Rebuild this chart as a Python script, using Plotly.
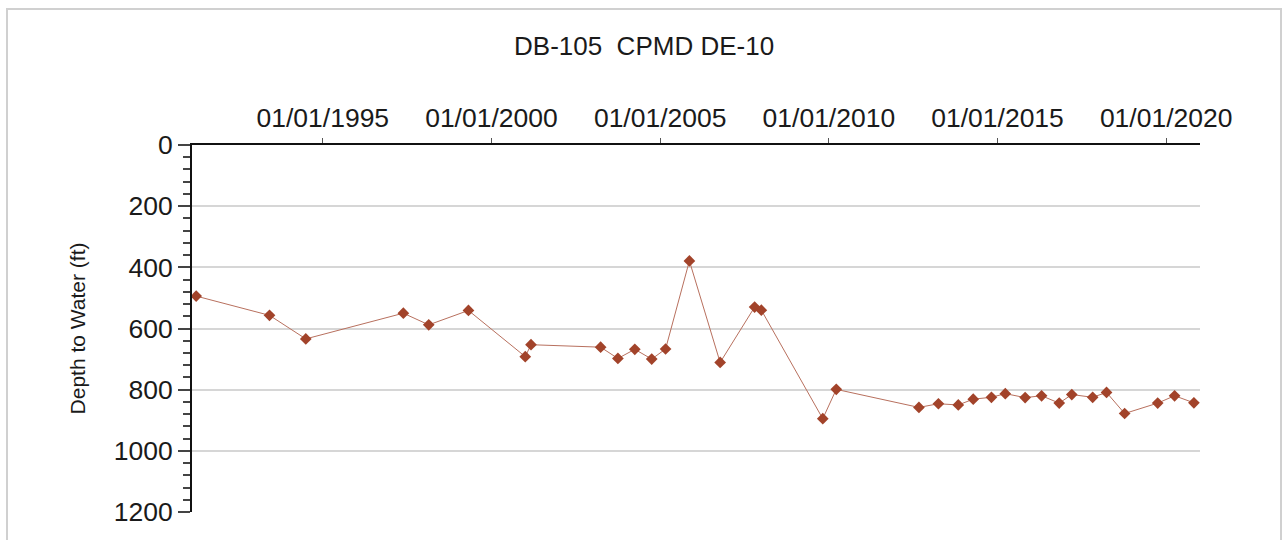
import plotly.graph_objects as go

# Depth-to-water measurements for well DB-105 (CPMD DE-10)
dates = [
    "1991-04-01", "1993-06-03", "1994-07-01", "1997-05-22", "1998-02-21",
    "1999-04-27", "2001-01-01", "2001-03-04", "2003-03-28", "2003-10-01",
    "2004-04-01", "2004-10-01", "2005-02-28", "2005-11-13", "2006-10-12",
    "2007-10-20", "2008-01-01", "2009-10-27", "2010-03-22", "2012-09-02",
    "2013-04-01", "2013-11-02", "2014-04-13", "2014-10-27", "2015-03-26",
    "2015-10-27", "2016-04-22", "2016-10-30", "2017-03-15", "2017-10-27",
    "2018-03-26", "2018-10-08", "2019-10-01", "2020-04-01", "2020-10-27",
]
depth_ft = [
    494, 557, 634, 550, 588,
    541, 692, 653, 661, 698,
    668, 700, 667, 379, 711,
    530, 540, 895, 799, 858,
    846, 850, 831, 825, 813,
    826, 820, 844, 816, 825,
    809, 878, 844, 820, 843,
]

x_tick_dates = ["1995-01-01", "2000-01-01", "2005-01-01", "2010-01-01", "2015-01-01", "2020-01-01"]
x_tick_labels = ["01/01/1995", "01/01/2000", "01/01/2005", "01/01/2010", "01/01/2015", "01/01/2020"]
y_ticks = [0, 200, 400, 600, 800, 1000, 1200]

FONT = "Arial, 'Liberation Sans', sans-serif"

fig = go.Figure()
fig.add_trace(go.Scatter(
    x=dates,
    y=depth_ft,
    mode="lines+markers",
    line=dict(color="#b8705e", width=1),
    marker=dict(symbol="diamond", size=9, color="#a2432a"),
    showlegend=False,
))

fig.update_layout(
    width=1283,
    height=540,
    margin=dict(l=192, r=83, t=145, b=28),
    paper_bgcolor="white",
    plot_bgcolor="white",
    font=dict(family=FONT, color="#1a1a1a"),
    title=dict(
        text="DB-105\u00a0\u00a0CPMD DE-10",
        x=0.502, xref="container", xanchor="center",
        y=0.915, yref="container", yanchor="middle",
        font=dict(size=26, family=FONT, color="#1a1a1a"),
    ),
    xaxis=dict(
        type="date",
        side="top",
        range=["1991-02-15", "2021-01-01"],
        tickvals=x_tick_dates,
        ticktext=x_tick_labels,
        ticks="outside",
        ticklen=5,
        tickcolor="#555",
        tickfont=dict(size=26.5, family=FONT, color="#1a1a1a"),
        showline=True,
        linecolor="#111",
        linewidth=2,
        showgrid=False,
        zeroline=False,
    ),
    yaxis=dict(
        range=[1200, 0],
        tickvals=y_ticks,
        ticks="outside",
        ticklen=12,
        tickcolor="#444",
        tickwidth=1.5,
        tickfont=dict(size=26.5, family=FONT, color="#1a1a1a"),
        minor=dict(dtick=40, ticks="outside", ticklen=7, tickcolor="#444", showgrid=False),
        showline=True,
        linecolor="#111",
        linewidth=2,
        showgrid=True,
        gridcolor="#d6d6d6",
        gridwidth=1.5,
        zeroline=False,
        title=dict(text="Depth to Water (ft)", font=dict(size=21, family=FONT, color="#1a1a1a"), standoff=22),
    ),
    shapes=[
        dict(
            type="rect", xref="paper", yref="paper",
            x0=(7 - 192) / 1008, x1=(1281 - 192) / 1008,
            y0=-0.2, y1=(512 - 9) / 367,
            line=dict(color="#d0d0d0", width=2),
            fillcolor="rgba(0,0,0,0)",
            layer="below",
        )
    ],
)

fig.write_html("out.html")
